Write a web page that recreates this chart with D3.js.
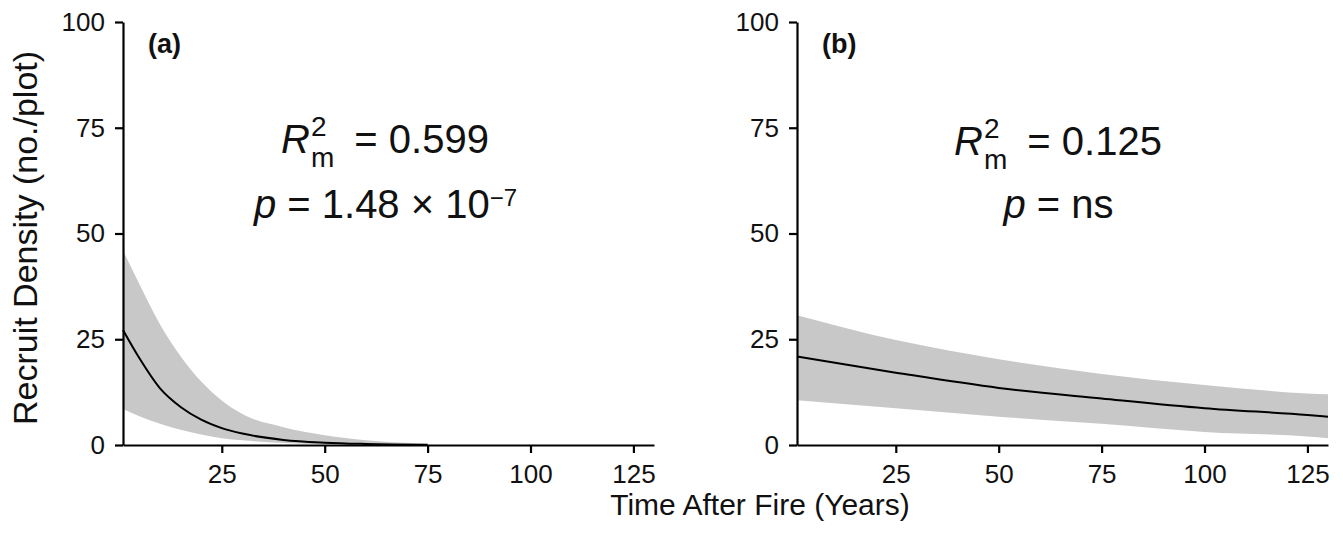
<!DOCTYPE html>
<html>
<head>
<meta charset="utf-8">
<script src="https://cdn.jsdelivr.net/npm/d3@7"></script>
<style>
  html, body { margin: 0; padding: 0; background: #fff; }
  svg { display: block; }
  text { font-family: "Liberation Sans", Arial, sans-serif; fill: #111; }
</style>
</head>
<body>
<svg id="chart" width="1343" height="535"></svg>
<script>
// ---------- data ----------
const xTicks = [25, 50, 75, 100, 125];
const yTicks = [0, 25, 50, 75, 100];

// panel (a)
const aYears = [1, 5, 10, 15, 20, 25, 30, 40, 50, 60, 75];
const aFit   = [27.2, 20.5, 13.4, 9.0, 6.0, 4.0, 2.7, 1.2, 0.55, 0.25, 0.07];
const aUpper = [46, 38, 28.5, 21, 15, 10.5, 7.3, 4.2, 2.3, 1.1, 0.3];
const aLower = [8.5, 6.8, 5.0, 3.6, 2.5, 1.6, 1.1, 0.5, 0.2, 0.08, 0.02];

// panel (b)
const bYears = [1, 25, 50, 75, 100, 125, 130];
const bFit   = [20.9, 17.1, 13.5, 11.0, 8.7, 7.1, 6.7];
const bUpper = [30.7, 24.8, 20.3, 16.8, 14.2, 12.2, 12.0];
const bLower = [10.6, 8.7, 6.7, 5.0, 3.1, 2.0, 1.6];

const panelLabels = ["(a)", "(b)"];
const r2Values = ["0.599", "0.125"];
const pTexts = [
  { main: "1.48 \u00D7 10", sup: "\u22127" },
  { main: "ns", sup: null }
];

// ---------- layout ----------
const svg = d3.select("#chart");
const yTop = 22, yBottom = 445;
const panels = [
  { x0: 123, x1: 654, cx: 385, years: aYears, fit: aFit, up: aUpper, lo: aLower },
  { x0: 797, x1: 1328, cx: 1058, years: bYears, fit: bFit, up: bUpper, lo: bLower }
];

const y = d3.scaleLinear().domain([0, 100]).range([yBottom, yTop]);

panels.forEach((p, i) => {
  const x = d3.scaleLinear().domain([1, 130]).range([p.x0, p.x1]);
  const g = svg.append("g");
  const pts = p.years.map((yr, k) => ({ x: yr, f: p.fit[k], u: p.up[k], l: p.lo[k] }));

  const area = d3.area()
    .x(d => x(d.x)).y0(d => y(d.l)).y1(d => y(d.u))
    .curve(d3.curveMonotoneX);
  g.append("path").datum(pts).attr("d", area).attr("fill", "#c8c8c8");

  const line = d3.line().x(d => x(d.x)).y(d => y(d.f)).curve(d3.curveMonotoneX);
  g.append("path").datum(pts).attr("d", line)
    .attr("fill", "none").attr("stroke", "#000").attr("stroke-width", 2);

  // axes
  const xAxis = d3.axisBottom(x).tickValues(xTicks).tickSize(8).tickSizeOuter(0).tickPadding(12);
  const yAxis = d3.axisLeft(y).tickValues(yTicks).tickSize(8).tickSizeOuter(0).tickPadding(10);

  const gx = g.append("g").attr("transform", `translate(0,${yBottom})`).call(xAxis);
  const gy = g.append("g").attr("transform", `translate(${p.x0},0)`).call(yAxis);
  [gx, gy].forEach(ax => {
    ax.select(".domain").attr("stroke", "#000").attr("stroke-width", 2.2);
    ax.selectAll(".tick line").attr("stroke", "#000").attr("stroke-width", 2.2);
    ax.selectAll(".tick text").attr("font-size", 26).attr("fill", "#111")
      .style("font-family", '"Liberation Sans", Arial, sans-serif');
  });

  // panel label
  g.append("text").attr("x", p.x0 + 25).attr("y", 53)
    .attr("font-size", 27).attr("font-weight", "bold").text(panelLabels[i]);

  // R^2_m line
  const l1 = g.append("g");
  const tR = l1.append("text").attr("x", 0).attr("y", 0).attr("font-size", 40)
    .attr("font-style", "italic").text("R");
  const wR = tR.node().getComputedTextLength();
  const sx = wR + 1;
  const t2 = l1.append("text").attr("x", sx).attr("y", -17).attr("font-size", 28).text("2");
  const tm = l1.append("text").attr("x", sx).attr("y", 14).attr("font-size", 28).text("m");
  const wsub = Math.max(t2.node().getComputedTextLength(), tm.node().getComputedTextLength());
  l1.append("text").attr("x", sx + wsub + 20).attr("y", 0).attr("font-size", 40)
    .text("= " + r2Values[i]);
  const b1 = l1.node().getBBox();
  l1.attr("transform", `translate(${p.cx - (b1.x + b1.width / 2)},${i === 0 ? 153 : 155})`);

  // p line
  const l2 = g.append("g");
  const tp = l2.append("text").attr("x", 0).attr("y", 0).attr("font-size", 40);
  tp.append("tspan").attr("font-style", "italic").text("p");
  tp.append("tspan").text(" = " + pTexts[i].main);
  if (pTexts[i].sup) {
    tp.append("tspan").attr("font-size", 24).attr("dy", -12).text(pTexts[i].sup);
  }
  const b2 = l2.node().getBBox();
  l2.attr("transform", `translate(${p.cx - (b2.x + b2.width / 2)},218)`);
});

// axis titles
svg.append("text").attr("x", 760).attr("y", 515).attr("text-anchor", "middle")
  .attr("font-size", 30).text("Time After Fire (Years)");
svg.append("text").attr("transform", "translate(37,238) rotate(-90)")
  .attr("text-anchor", "middle").attr("font-size", 34).text("Recruit Density (no./plot)");
</script>
</body>
</html>
